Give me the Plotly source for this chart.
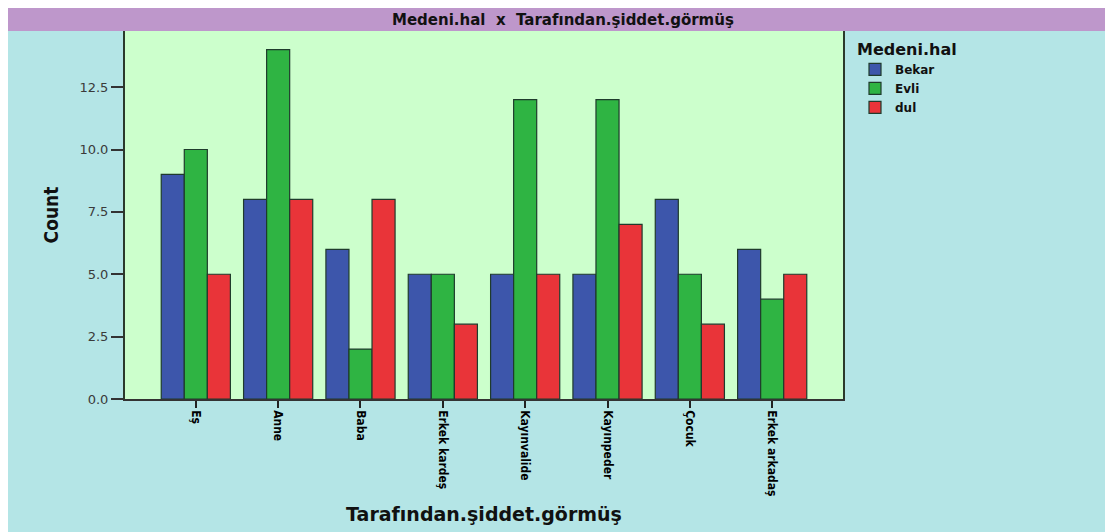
import plotly.graph_objects as go

categories = ["Eş", "Anne", "Baba", "Erkek kardeş", "Kayınvalide", "Kayınpeder", "Çocuk", "Erkek arkadaş"]
bekar = [9, 8, 6, 5, 5, 5, 8, 6]
evli = [10, 14, 2, 5, 12, 12, 5, 4]
dul = [5, 8, 8, 3, 5, 7, 3, 5]
series_names = ["Bekar", "Evli", "dul"]
colors = ["#3d56ab", "#2fb443", "#e93439"]
y_ticks = [0, 2.5, 5, 7.5, 10, 12.5]
y_tick_labels = ["0.0", "2.5", "5.0", "7.5", "10.0", "12.5"]

# the page body has an 8px margin; figure coordinates are screen minus 8
OFF = 8
W, H = 1113 - OFF, 532 - OFF
L, R, T, B = 125 - OFF, 843 - OFF, 31 - OFF, 399 - OFF

fig = go.Figure()
for name, vals, col in zip(series_names, [bekar, evli, dul], colors):
    fig.add_trace(go.Bar(
        x=categories, y=vals, name="<b>" + name + "</b>",
        marker=dict(color=col, line=dict(color="#1f3b2c", width=1.2)),
    ))

def px(x):
    return (x - OFF - L) / (R - L)

def py(y):
    return (B - (y - OFF)) / (B - T)

fig.update_layout(
    width=W, height=H,
    margin=dict(l=L, r=W - R, t=T, b=H - B, autoexpand=False),
    paper_bgcolor="#b4e5e6",
    plot_bgcolor="#ccffcc",
    barmode="group",
    bargap=0.16,
    bargroupgap=0,
    font=dict(family="Liberation Sans, Arial, sans-serif", color="#000"),
    showlegend=True,
    legend=dict(
        title=dict(text="<b>Medeni.hal</b>", font=dict(size=16, family="DejaVu Sans, Verdana", color="#111")),
        x=px(855), y=py(34), xanchor="left", yanchor="top",
        font=dict(size=12, family="DejaVu Sans, Arial", color="#111"),
        bgcolor="rgba(0,0,0,0)",
        itemwidth=30, tracegroupgap=0,
        traceorder="normal",
    ),
    xaxis=dict(
        range=[-0.86, 7.86],
        automargin=False,
        tickangle=90,
        tickvals=categories,
        ticktext=["<b>" + c + "</b>" for c in categories],
        ticks="outside", ticklen=7, tickwidth=1.5, tickcolor="#222",
        showline=True, linecolor="#333", linewidth=1.5, mirror=True,
        tickfont=dict(family="Liberation Sans Narrow, DejaVu Sans Condensed, Arial Narrow", size=12, color="#000"),
        title=dict(text="<b>Tarafından.şiddet.görmüş</b>",
                   font=dict(family="DejaVu Sans, Verdana", size=19, color="#111"), standoff=12),
        showgrid=False,
    ),
    yaxis=dict(
        range=[0, 14.75],
        automargin=False,
        tickvals=y_ticks, ticktext=y_tick_labels,
        ticks="outside", ticklen=12, tickwidth=1.5, tickcolor="#333",
        showline=True, linecolor="#2b3a2b", linewidth=2, mirror=True,
        tickfont=dict(family="DejaVu Sans, Verdana", size=13, color="#3a3a3a"),
        showgrid=False, zeroline=False,
        title=dict(text="<b>Count</b>",
                   font=dict(family="Liberation Sans Narrow, DejaVu Sans Condensed", size=19, color="#111"),
                   standoff=16),
    ),
    shapes=[
        dict(type="rect", xref="paper", yref="paper",
             x0=px(0), x1=px(1113), y0=py(31), y1=py(8),
             fillcolor="#be97cb", line=dict(width=0), layer="above"),
    ],
    annotations=[
        dict(text="<b>Medeni.hal  x  Tarafından.şiddet.görmüş</b>",
             xref="paper", yref="paper", x=px(563), y=py(19.5),
             xanchor="center", yanchor="middle", showarrow=False,
             font=dict(family="DejaVu Sans, Verdana", size=15, color="#111")),
    ],
)

fig.write_html("out.html", config={"displayModeBar": False})
